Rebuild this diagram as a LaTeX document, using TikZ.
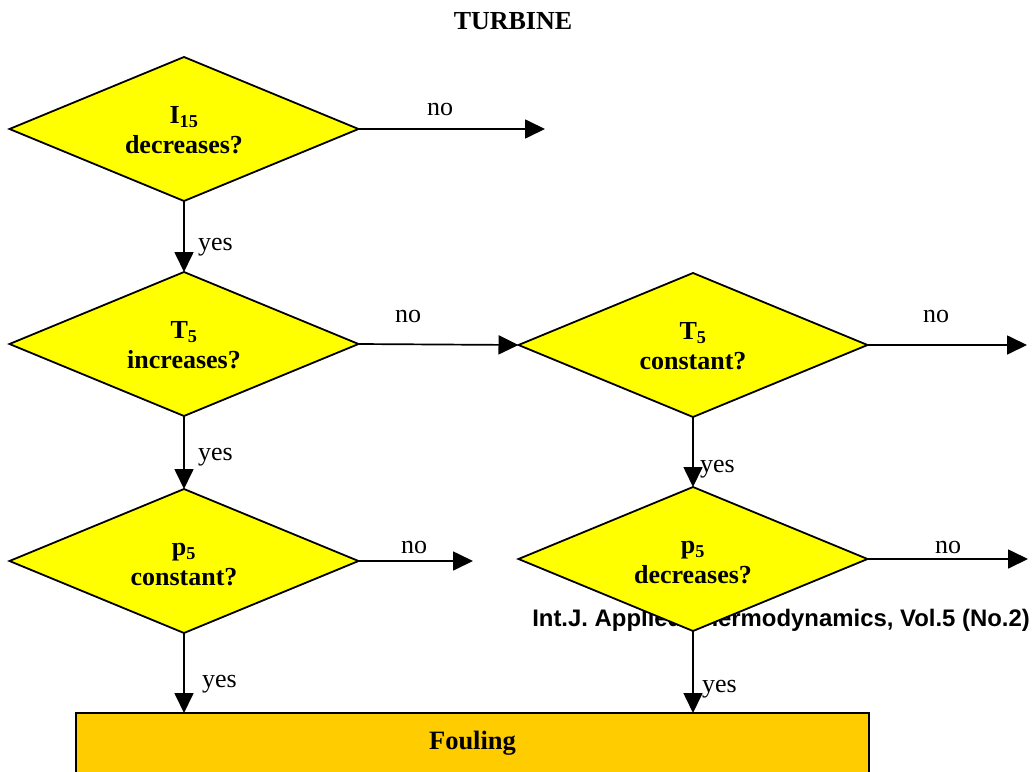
\documentclass[tikz,border=0pt]{standalone}
\usepackage{fontspec}
\setmainfont{Liberation Serif}
\newfontfamily\arialfont{Liberation Sans}
\usetikzlibrary{shapes.geometric,arrows.meta}
\definecolor{dyellow}{HTML}{FFFF00}
\definecolor{forange}{HTML}{FFCC00}
\begin{document}
\begin{tikzpicture}[x=1pt,y=-1pt,
  decision/.style={diamond, draw=black, line width=1.8pt, fill=dyellow,
    minimum width=349pt, minimum height=144pt, aspect=2.42,
    inner sep=0pt, outer sep=0pt, align=center,
    text height=51pt, text depth=2pt,
    font=\fontsize{26}{30}\selectfont\bfseries},
  resultbox/.style={rectangle, draw=black, line width=1.8pt, fill=forange,
    minimum width=793pt, minimum height=62pt, inner sep=0pt, outer sep=0pt,
    text height=18pt, text depth=8pt,
    font=\fontsize{26.5}{30}\selectfont\bfseries},
  flow/.style={-{Triangle[length=20pt,width=19pt]}, line width=1.7pt},
  lbl/.style={font=\fontsize{26}{26}\selectfont, inner sep=0pt, outer sep=0pt},
  ttl/.style={font=\fontsize{26}{26}\selectfont\bfseries, inner sep=0pt},
  journal/.style={font=\arialfont\fontsize{23.9}{26}\selectfont\bfseries, inner sep=0pt},
]
\useasboundingbox (0,0) rectangle (1032,771);
\clip (0,0) rectangle (1032,771);

% title
\node[ttl, anchor=base] (title) at (513,29) {TURBINE};

% journal line (behind the diamonds)
\node[journal, anchor=base east] (jrnl) at (1030,626) {Int.J. Applied Thermodynamics, Vol.5 (No.2)};

% decisions
\node[decision] (d1) at (184,129) {I\textsubscript{15}\\decreases?};
\node[decision] (d2) at (184,344) {T\textsubscript{5}\\increases?};
\node[decision] (d3) at (693,345) {T\textsubscript{5}\\constant?};
\node[decision] (d4) at (184,561) {p\textsubscript{5}\\constant?};
\node[decision] (d5) at (693,559) {p\textsubscript{5}\\decreases?};

% result
\node[resultbox, anchor=north] (box) at (472.5,713) {Fouling};

% free ends
\coordinate (e1) at (545,129);
\coordinate (e3) at (1027,345);
\coordinate (e4) at (473,561);
\coordinate (e5) at (1028,559);

% connectors
\draw[flow] (d1.east) -- (e1);
\draw[flow] (d2.east) -- (d3.west);
\draw[flow] (d3.east) -- (e3);
\draw[flow] (d4.east) -- (e4);
\draw[flow] (d5.east) -- (e5);
\draw[flow] (d1.south) -- (d2.north);
\draw[flow] (d2.south) -- (d4.north);
\draw[flow] (d3.south) -- (d5.north);
\draw[flow] (d4.south) -- (d4.south |- box.north);
\draw[flow] (d5.south) -- (d5.south |- box.north);

% labels
\node[lbl, anchor=base] (n1) at (440,115) {no};
\node[lbl, anchor=base] (n2) at (408,322) {no};
\node[lbl, anchor=base] (n3) at (936,322) {no};
\node[lbl, anchor=base] (n4) at (414,553) {no};
\node[lbl, anchor=base] (n5) at (948,553) {no};
\node[lbl, anchor=base west] (y1) at (198,250) {yes};
\node[lbl, anchor=base west] (y2) at (198,460) {yes};
\node[lbl, anchor=base west] (y3) at (700,472) {yes};
\node[lbl, anchor=base west] (y4) at (202,687) {yes};
\node[lbl, anchor=base west] (y5) at (702,692) {yes};
\end{tikzpicture}
\end{document}
